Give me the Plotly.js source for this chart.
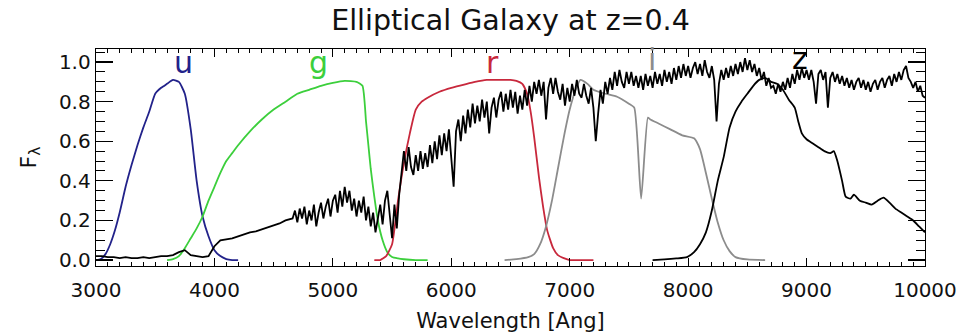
<!DOCTYPE html>
<html>
<head>
<meta charset="utf-8">
<script src="https://cdn.plot.ly/plotly-3.0.1.min.js"></script>
<style>
  html, body { margin: 0; padding: 0; background: #ffffff; }
  #chart { width: 963px; height: 334px; }
</style>
</head>
<body>
<div id="chart"></div>
<script>
// Galaxy spectrum (F_lambda, normalised), sampled in blocks: start, step, values
const specBlueStart = 3000, specBlueStep = 50;
const specBlue = [0.02, 0.02, 0.015, 0.015, 0.01, 0.015, 0.01, 0.01, 0.015, 0.01,
  0.015, 0.02, 0.02, 0.025, 0.04, 0.05, 0.025, 0.02, 0.015, 0.02,
  0.07, 0.1, 0.105, 0.11, 0.12, 0.13, 0.14, 0.145, 0.155, 0.165,
  0.175, 0.185, 0.2];

const specRedStart = 4660, specRedStep = 20;
const specRed = [
  // 4660 - 5560
  0.21, 0.25, 0.19, 0.26, 0.21, 0.27, 0.18, 0.25, 0.20, 0.28,
  0.17, 0.24, 0.29, 0.21, 0.27, 0.31, 0.22, 0.30, 0.33, 0.24,
  0.35, 0.27, 0.37, 0.29, 0.35, 0.25, 0.31, 0.22, 0.30, 0.24,
  0.32, 0.20, 0.27, 0.17, 0.24, 0.14, 0.22, 0.28, 0.18, 0.30,
  0.35, 0.21, 0.11, 0.28, 0.16, 0.33,
  // 5580 - 6700
  0.44, 0.55, 0.45, 0.57, 0.47, 0.43, 0.53, 0.45, 0.55, 0.46,
  0.54, 0.47, 0.58, 0.49, 0.60, 0.51, 0.63, 0.53, 0.64, 0.55,
  0.66, 0.50, 0.37, 0.65, 0.71, 0.60, 0.73, 0.64, 0.76, 0.67,
  0.79, 0.69, 0.78, 0.70, 0.81, 0.72, 0.80, 0.64, 0.77, 0.82,
  0.72, 0.81, 0.85, 0.75, 0.84, 0.76, 0.86, 0.77, 0.85, 0.74,
  0.83, 0.76, 0.86, 0.78, 0.88, 0.80, 0.90,
  // 6720 - 8700
  0.84, 0.91, 0.83, 0.90, 0.71, 0.87, 0.92, 0.84, 0.92, 0.85,
  0.81, 0.89, 0.78, 0.87, 0.80, 0.89, 0.83, 0.91, 0.84, 0.82,
  0.89, 0.83, 0.79, 0.87, 0.77, 0.60, 0.74, 0.86, 0.79, 0.90,
  0.84, 0.92, 0.86, 0.95, 0.88, 0.96, 0.90, 0.87, 0.95, 0.89,
  0.95, 0.88, 0.93, 0.87, 0.93, 0.86, 0.94, 0.88, 0.93, 0.87,
  0.95, 0.89, 0.94, 0.88, 0.96, 0.90, 0.95, 0.89, 0.97, 0.91,
  0.98, 0.92, 0.99, 0.93, 0.98, 0.92, 0.97, 1.00, 0.94, 0.99,
  0.93, 1.01, 0.95, 0.92, 0.98, 0.91, 0.70, 0.89, 0.96, 0.91,
  0.97, 0.92, 0.98, 0.93, 0.99, 0.94, 1.00, 0.95, 1.02, 0.96,
  1.01, 0.95, 0.99, 0.93, 0.97, 0.91, 0.95, 0.88, 0.92, 0.87,
  // 8720 - 10000
  0.88, 0.84, 0.89, 0.85, 0.90, 0.86, 0.92, 0.87, 0.94, 0.89,
  0.96, 0.91, 0.97, 0.92, 0.96, 0.91, 0.96, 0.90, 0.79, 0.94,
  0.96, 0.91, 0.95, 0.77, 0.92, 0.95, 0.90, 0.94, 0.89, 0.93,
  0.88, 0.92, 0.87, 0.91, 0.86, 0.90, 0.92, 0.87, 0.91, 0.86,
  0.90, 0.85, 0.89, 0.91, 0.86, 0.90, 0.92, 0.87, 0.91, 0.93,
  0.88, 0.94, 0.90, 0.95, 0.91, 0.96, 0.98, 0.92, 0.90, 0.87,
  0.90, 0.85, 0.88, 0.83, 0.82
];

// SDSS filter transmission curves
const uLam = [3000, 3040, 3080, 3120, 3160, 3200, 3250, 3300, 3350, 3400, 3450, 3500, 3550, 3600, 3650, 3700, 3750, 3800, 3850, 3900, 3950, 4000, 4050, 4100, 4150, 4200];
const uVal = [0, 0.005, 0.03, 0.08, 0.15, 0.24, 0.37, 0.48, 0.58, 0.67, 0.75, 0.84, 0.87, 0.89, 0.91, 0.90, 0.84, 0.66, 0.40, 0.22, 0.12, 0.05, 0.02, 0.005, 0, 0];

const gLam = [3600, 3650, 3700, 3750, 3800, 3850, 3900, 3950, 4000, 4050, 4100, 4150, 4200, 4300, 4400, 4500, 4600, 4700, 4800, 4900, 5000, 5100, 5200, 5250, 5280, 5300, 5320, 5350, 5380, 5420, 5460, 5500, 5550, 5600, 5700, 5800];
const gVal = [0, 0.005, 0.02, 0.06, 0.11, 0.16, 0.22, 0.30, 0.37, 0.44, 0.50, 0.54, 0.58, 0.65, 0.71, 0.76, 0.80, 0.84, 0.86, 0.88, 0.895, 0.905, 0.90, 0.88, 0.70, 0.58, 0.46, 0.32, 0.20, 0.10, 0.04, 0.015, 0.008, 0.004, 0, 0];

const rLam = [5350, 5400, 5450, 5500, 5550, 5600, 5650, 5700, 5750, 5800, 5900, 6000, 6100, 6200, 6300, 6400, 6500, 6550, 6600, 6640, 6670, 6700, 6740, 6775, 6810, 6860, 6900, 6950, 7000, 7100, 7200];
const rVal = [0, 0, 0.02, 0.08, 0.30, 0.49, 0.64, 0.76, 0.80, 0.82, 0.85, 0.87, 0.885, 0.90, 0.91, 0.91, 0.91, 0.905, 0.89, 0.84, 0.75, 0.62, 0.42, 0.27, 0.15, 0.06, 0.025, 0.01, 0, 0, 0];

const iLam = [6450, 6550, 6650, 6700, 6750, 6800, 6850, 6900, 6950, 7000, 7050, 7090, 7150, 7200, 7300, 7400, 7500, 7545, 7603, 7660, 7680, 7750, 7850, 7950, 8050, 8100, 8150, 8200, 8250, 8300, 8350, 8400, 8500, 8650];
const iVal = [0, 0.005, 0.015, 0.03, 0.08, 0.17, 0.30, 0.46, 0.62, 0.76, 0.86, 0.91, 0.89, 0.86, 0.84, 0.825, 0.79, 0.77, 0.31, 0.72, 0.71, 0.69, 0.66, 0.63, 0.615, 0.56, 0.44, 0.31, 0.19, 0.10, 0.045, 0.015, 0.003, 0];

const zLam = [7700, 7800, 7900, 7990, 8050, 8100, 8150, 8200, 8250, 8300, 8350, 8400, 8450, 8500, 8550, 8600, 8650, 8700, 8750, 8800, 8850, 8900, 8930, 8960, 9000, 9050, 9100, 9150, 9200, 9230, 9260, 9300, 9330, 9370, 9400, 9450, 9500, 9550, 9600, 9650, 9700, 9750, 9800, 9850, 9900, 9950, 10000];
const zVal = [0, 0.003, 0.008, 0.015, 0.04, 0.08, 0.14, 0.25, 0.40, 0.52, 0.67, 0.75, 0.80, 0.84, 0.88, 0.91, 0.92, 0.90, 0.89, 0.86, 0.81, 0.77, 0.70, 0.64, 0.61, 0.59, 0.57, 0.55, 0.54, 0.55, 0.50, 0.40, 0.32, 0.31, 0.33, 0.30, 0.29, 0.28, 0.30, 0.315, 0.29, 0.26, 0.24, 0.22, 0.20, 0.17, 0.14];

// Filter name labels along the top of the frame
const bandNames = ['u', 'g', 'r', 'i', 'z'];
const bandLabelLam = [3735, 4875, 6350, 7696, 8946];
const bandLabelY = [1.0, 1.0, 1.0, 1.015, 1.02];
const bandColors = ['#22228a', '#3ccf3c', '#c8283c', '#8c8c8c', '#000000'];

const xTicks = [3000, 4000, 5000, 6000, 7000, 8000, 9000, 10000];
const xTickText = ['3000', '4000', '5000', '6000', '7000', '8000', '9000', '10000'];
const yTicks = [0, 0.2, 0.4, 0.6, 0.8, 1.0];
const yTickText = ['0.0', '0.2', '0.4', '0.6', '0.8', '1.0'];

function grid(start, step, n) {
  const out = [];
  for (let k = 0; k < n; k++) out.push(start + k * step);
  return out;
}

const specLam = grid(specBlueStart, specBlueStep, specBlue.length)
  .concat(grid(specRedStart, specRedStep, specRed.length));
const specVal = specBlue.concat(specRed);

const filterLine = (x, y, color, name) => ({
  x: x, y: y, name: name, type: 'scatter', mode: 'lines',
  line: { color: color, width: 1.8, shape: 'spline', smoothing: 0.5 },
  hoverinfo: 'skip'
});

const traces = [
  filterLine(uLam, uVal, bandColors[0], 'u'),
  filterLine(gLam, gVal, bandColors[1], 'g'),
  filterLine(rLam, rVal, bandColors[2], 'r'),
  filterLine(iLam, iVal, bandColors[3], 'i'),
  {
    x: specLam, y: specVal, name: 'spectrum', type: 'scatter', mode: 'lines',
    line: { color: '#000000', width: 1.8, shape: 'linear' }
  },
  filterLine(zLam, zVal, bandColors[4], 'z')
];

const fontFam = 'DejaVu Sans, sans-serif';

const annotations = bandNames.map((b, k) => ({
  x: bandLabelLam[k], y: bandLabelY[k], xref: 'x', yref: 'y',
  text: b, showarrow: false, xanchor: 'center', yanchor: 'middle',
  font: { family: fontFam, size: 30, color: bandColors[k] }
}));

const layout = {
  width: 963, height: 334,
  margin: { l: 96, r: 38, t: 49, b: 68 },
  paper_bgcolor: '#ffffff', plot_bgcolor: '#ffffff',
  showlegend: false,
  font: { family: fontFam, color: '#111111' },
  title: {
    text: 'Elliptical Galaxy at z=0.4',
    font: { family: fontFam, size: 28.5, color: '#111111' },
    x: 0.5, xanchor: 'center', xref: 'paper',
    y: 0.94, yanchor: 'middle', yref: 'container'
  },
  xaxis: {
    range: [3000, 10000], showgrid: false, zeroline: false,
    tickmode: 'array', tickvals: xTicks, ticktext: xTickText,
    ticks: 'inside', ticklen: 8, tickwidth: 1.2, tickcolor: '#000',
    ticklabelstandoff: 6,
    minor: { dtick: 100, ticks: 'inside', ticklen: 4, tickwidth: 1, tickcolor: '#000' },
    showline: true, linecolor: '#000', linewidth: 1.3, mirror: 'ticks',
    tickfont: { family: fontFam, size: 20, color: '#111111' },
    title: { text: 'Wavelength [Ang]', font: { family: fontFam, size: 21, color: '#111111' }, standoff: 12 }
  },
  yaxis: {
    range: [-0.03, 1.066], showgrid: false, zeroline: false,
    tickmode: 'array', tickvals: yTicks, ticktext: yTickText,
    ticks: 'inside', ticklen: 17, tickwidth: 1.2, tickcolor: '#000',
    minor: { dtick: 0.05, ticks: 'inside', ticklen: 9, tickwidth: 1, tickcolor: '#000' },
    showline: true, linecolor: '#000', linewidth: 1.3, mirror: 'ticks',
    tickfont: { family: fontFam, size: 20, color: '#111111' },
    title: { text: 'F<sub>λ</sub>', font: { family: fontFam, size: 22, color: '#111111' }, standoff: 16 }
  },
  annotations: annotations
};

Plotly.newPlot('chart', traces, layout, { staticPlot: true, displayModeBar: false });
</script>
</body>
</html>
